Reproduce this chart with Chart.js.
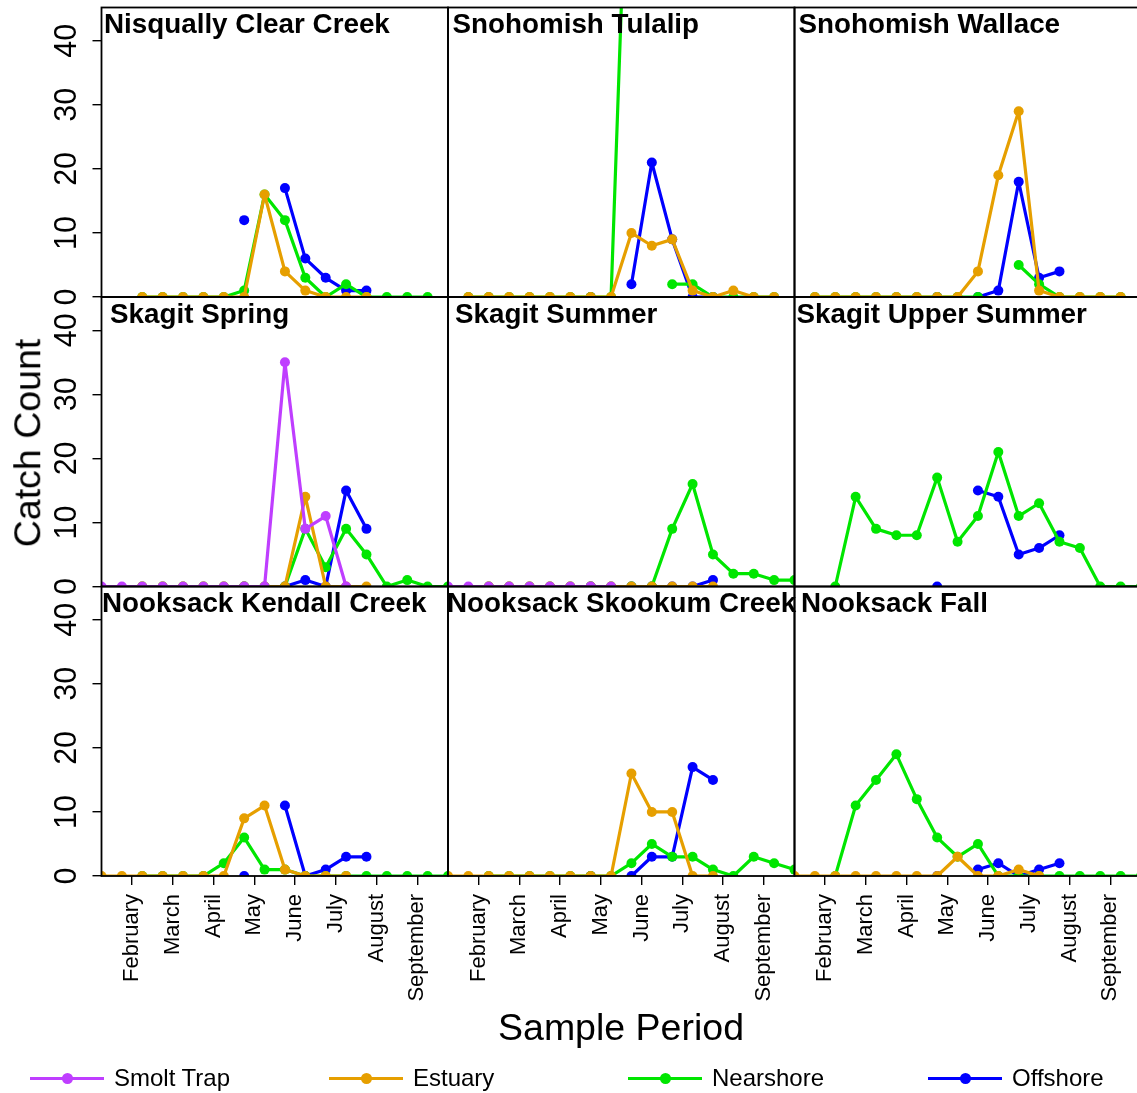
<!DOCTYPE html>
<html>
<head>
<meta charset="utf-8">
<script src="https://cdn.jsdelivr.net/npm/chart.js@4.4.1/dist/chart.umd.min.js"></script>
<style>
  html, body { margin: 0; padding: 0; overflow: hidden; background: #fff; }
  body { width: 1137px; height: 1093px; position: relative; font-family: "Liberation Sans", Arial, sans-serif; color: #000; }
  #stage canvas { position: absolute; left: 0; top: 0; }
  .ttl { position: absolute; font-weight: bold; font-size: 27.8px; line-height: 1; white-space: nowrap; z-index: 5; }
  .axis-title { position: absolute; font-size: 37.5px; line-height: 1; white-space: nowrap; z-index: 5; }
  .leg-line { position: absolute; height: 3px; z-index: 5; }
  .leg-dot { position: absolute; width: 11px; height: 11px; border-radius: 50%; z-index: 5; }
  .leg-text { position: absolute; font-size: 24px; line-height: 1; white-space: nowrap; z-index: 5; }
</style>
</head>
<body>
<div id="stage"></div>
<div class="axis-title" id="ytitle" style="left:28px; top:443px; transform: translate(-50%, -50%) rotate(-90deg);">Catch Count</div>
<div class="axis-title" style="left:621px; top:1009px; transform: translateX(-50%);">Sample Period</div>
<div id="legend"></div>

<script>
const _ = null;

// sample periods run 0..17 (two per month), month ticks sit between them
const periodCount = 18;
const monthTicks = [1.5, 3.5, 5.5, 7.5, 9.5, 11.5, 13.5, 15.5];
const monthLabels = ["February", "March", "April", "May", "June", "July", "August", "September"];
const yTicks = [0, 10, 20, 30, 40];

const seriesNames = ["Smolt Trap", "Estuary", "Nearshore", "Offshore"];
const seriesColors = ["#BF3EFF", "#E69F00", "#00E600", "#0000FF"];

const panelNames = [
  "Nisqually Clear Creek", "Snohomish Tulalip", "Snohomish Wallace",
  "Skagit Spring", "Skagit Summer", "Skagit Upper Summer",
  "Nooksack Kendall Creek", "Nooksack Skookum Creek", "Nooksack Fall"
];

// Nisqually Clear Creek
const nisquallyEstuary   = [_, _, 0, 0, 0, 0, 0, 0, 16, 4, 1, 0, 0, 0, _, _, _, _];
const nisquallyNearshore = [_, _, 0, 0, 0, 0, 0, 1, 16, 12, 3, 0, 2, 0, 0, 0, 0, _];
const nisquallyOffshore  = [_, _, _, _, _, _, _, 12, _, 17, 6, 3, 1, 1, _, _, _, _];

// Snohomish Tulalip
const tulalipEstuary   = [_, 0, 0, 0, 0, 0, 0, 0, 0, 10, 8, 9, 1, 0, 1, 0, 0, _];
const tulalipNearshore = [_, 0, 0, 0, 0, 0, 0, 0, 0, 90, _, 2, 2, 0, 0, 0, 0, _];
const tulalipOffshore  = [_, _, _, _, _, _, _, 0, _, 2, 21, 9, 0, 0, _, _, _, _];

// Snohomish Wallace
const wallaceEstuary   = [_, 0, 0, 0, 0, 0, 0, 0, 0, 4, 19, 29, 1, 0, 0, 0, 0, _];
const wallaceNearshore = [_, 0, 0, 0, 0, 0, 0, 0, 0, 0, _, 5, 2, 0, 0, 0, 0, _];
const wallaceOffshore  = [_, _, _, _, _, _, _, 0, _, 0, 1, 18, 3, 4, _, _, _, _];

// Skagit Spring
const springSmolt     = [0, 0, 0, 0, 0, 0, 0, 0, 0, 35, 9, 11, 0, _, _, _, _, _];
const springEstuary   = [_, _, 0, 0, 0, 0, 0, 0, 0, 0, 14, 0, 0, 0, _, _, _, _];
const springNearshore = [_, _, 0, 0, 0, 0, 0, 0, 0, 0, 9, 3, 9, 5, 0, 1, 0, 0];
const springOffshore  = [_, _, _, _, _, _, _, 0, _, 0, 1, 0, 15, 9, _, _, _, _];

// Skagit Summer
const summerSmolt     = [0, 0, 0, 0, 0, 0, 0, 0, 0, _, _, _, _, _, _, _, _, _];
const summerEstuary   = [_, _, 0, 0, 0, 0, 0, 0, 0, 0, 0, 0, 0, 0, _, _, _, _];
const summerNearshore = [_, _, 0, 0, 0, 0, 0, 0, 0, 0, 0, 9, 16, 5, 2, 2, 1, 1];
const summerOffshore  = [_, _, _, _, _, _, _, 0, _, 0, 0, 0, 0, 1, _, _, _, _];

// Skagit Upper Summer
const upperNearshore = [_, _, 0, 14, 9, 8, 8, 17, 7, 11, 21, 11, 13, 7, 6, 0, 0, 0];
const upperOffshore  = [_, _, _, _, _, _, _, 0, _, 15, 14, 5, 6, 8, _, _, _, _];

// Nooksack Kendall Creek
const kendallEstuary   = [0, 0, 0, 0, 0, 0, 0, 9, 11, 1, 0, 0, 0, _, _, _, _, _];
const kendallNearshore = [_, _, 0, 0, 0, 0, 2, 6, 1, 1, 0, 0, 0, 0, 0, 0, 0, 0];
const kendallOffshore  = [_, _, _, _, _, _, _, 0, _, 11, 0, 1, 3, 3, _, _, _, _];

// Nooksack Skookum Creek
const skookumEstuary   = [0, 0, 0, 0, 0, 0, 0, 0, 0, 16, 10, 10, 0, 0, _, _, _, _];
const skookumNearshore = [_, _, 0, 0, 0, 0, 0, 0, 0, 2, 5, 3, 3, 1, 0, 3, 2, 1];
const skookumOffshore  = [_, _, _, _, _, _, _, 0, _, 0, 3, 3, 17, 15, _, _, _, _];

// Nooksack Fall
const fallEstuary   = [0, 0, 0, 0, 0, 0, 0, 0, 3, 0, 0, 1, 0, _, _, _, _, _];
const fallNearshore = [_, _, 0, 11, 15, 19, 12, 6, 3, 5, 0, 0, 0, 0, 0, 0, 0, 0];
const fallOffshore  = [_, _, _, _, _, _, _, 0, _, 1, 2, 0, 1, 2, _, _, _, _];

const none = [];

// per panel: smolt trap, estuary, nearshore, offshore
const panelSeries = [
  [none, nisquallyEstuary, nisquallyNearshore, nisquallyOffshore],
  [none, tulalipEstuary, tulalipNearshore, tulalipOffshore],
  [none, wallaceEstuary, wallaceNearshore, wallaceOffshore],
  [springSmolt, springEstuary, springNearshore, springOffshore],
  [summerSmolt, summerEstuary, summerNearshore, summerOffshore],
  [none, none, upperNearshore, upperOffshore],
  [none, kendallEstuary, kendallNearshore, kendallOffshore],
  [none, skookumEstuary, skookumNearshore, skookumOffshore],
  [none, fallEstuary, fallNearshore, fallOffshore]
];

// layout of the 3x3 grid (page pixels)
const CW = 1160, CH = 1093;
const colEdges = [101.5, 448, 794.5, 1141];
const rowEdges = [7.5, 297, 586.5, 876];
const titleLeft = [104, 452.5, 798.5, 110, 455, 796.5, 102, 447, 801];
const Y_AXIS_W = 60, X_AXIS_H = 130;

Chart.defaults.font.family = "'Liberation Sans', Arial, sans-serif";
Chart.defaults.color = "#000";

const panelBox = {
  id: "panelBox",
  afterDraw(chart) {
    const a = chart.chartArea, ctx = chart.ctx;
    ctx.save();
    ctx.strokeStyle = "#000";
    ctx.lineWidth = 1.8;
    ctx.strokeRect(a.left, a.top, a.right - a.left, a.bottom - a.top);
    ctx.restore();
  }
};

function toPoints(values) {
  const pts = [];
  for (let k = 0; k < periodCount; k++) {
    const v = values[k];
    pts.push({ x: k, y: v === undefined ? null : v });
  }
  return pts;
}

const stage = document.getElementById("stage");

panelNames.forEach((name, i) => {
  const row = Math.floor(i / 3), col = i % 3;
  const L = colEdges[col], R = colEdges[col + 1], T = rowEdges[row], B = rowEdges[row + 1];
  const showY = col === 0, showX = row === 2;

  const canvas = document.createElement("canvas");
  canvas.width = CW;
  canvas.height = CH;
  canvas.style.width = CW + "px";
  canvas.style.height = CH + "px";
  stage.appendChild(canvas);

  const datasets = seriesNames.map((s, j) => ({
    label: s,
    data: toPoints(panelSeries[i][j]),
    borderColor: seriesColors[j],
    backgroundColor: seriesColors[j],
    pointBackgroundColor: seriesColors[j],
    pointBorderWidth: 0,
    pointRadius: 5,
    borderWidth: 3.2,
    borderJoinStyle: "round",
    borderCapStyle: "round",
    tension: 0,
    spanGaps: false
  }));

  new Chart(canvas, {
    type: "line",
    data: { datasets },
    options: {
      responsive: false,
      animation: false,
      devicePixelRatio: 1,
      events: [],
      layout: {
        padding: {
          left: showY ? L - Y_AXIS_W : L,
          right: CW - R,
          top: T,
          bottom: showX ? CH - B - X_AXIS_H : CH - B
        }
      },
      plugins: { legend: { display: false }, tooltip: { enabled: false } },
      scales: {
        x: {
          type: "linear",
          min: 0,
          max: 17,
          display: showX,
          afterBuildTicks: s => { s.ticks = monthTicks.map(v => ({ value: v })); },
          ticks: {
            autoSkip: false,
            minRotation: 90,
            maxRotation: 90,
            padding: 9,
            font: { size: 22 },
            color: "#000",
            callback: (v, idx) => monthLabels[idx]
          },
          grid: { drawOnChartArea: false, tickLength: 9, color: "#000", lineWidth: 1.4 },
          border: { display: false },
          afterFit: s => {
            s.paddingLeft = 0; s.paddingRight = 0;
            s.height = showX ? X_AXIS_H : 0;
          }
        },
        y: {
          type: "linear",
          min: 0,
          max: 45.2,
          display: showY,
          afterBuildTicks: s => { s.ticks = yTicks.map(v => ({ value: v })); },
          ticks: {
            minRotation: 90,
            maxRotation: 90,
            crossAlign: "center",
            padding: 8,
            font: { size: 30.5 },
            color: "#000"
          },
          grid: { drawOnChartArea: false, tickLength: 9, color: "#000", lineWidth: 1.4 },
          border: { display: false },
          afterFit: s => {
            s.paddingTop = 0; s.paddingBottom = 0;
            s.width = showY ? Y_AXIS_W : 0;
          }
        }
      }
    },
    plugins: [panelBox]
  });

  const t = document.createElement("div");
  t.className = "ttl";
  t.textContent = name;
  t.style.left = titleLeft[i] + "px";
  t.style.top = (T + 2.5) + "px";
  document.body.appendChild(t);
});

// legend
const legend = document.getElementById("legend");
const legendX = [30, 329, 628, 928];
seriesNames.forEach((s, j) => {
  const x = legendX[j];
  const line = document.createElement("div");
  line.className = "leg-line";
  line.style.cssText = `left:${x}px; top:1076.5px; width:74px; background:${seriesColors[j]};`;
  const dot = document.createElement("div");
  dot.className = "leg-dot";
  dot.style.cssText = `left:${x + 31.5}px; top:1072.5px; background:${seriesColors[j]};`;
  const txt = document.createElement("div");
  txt.className = "leg-text";
  txt.textContent = s;
  txt.style.cssText = `left:${x + 84}px; top:1066px;`;
  legend.append(line, dot, txt);
});
</script>
</body>
</html>
